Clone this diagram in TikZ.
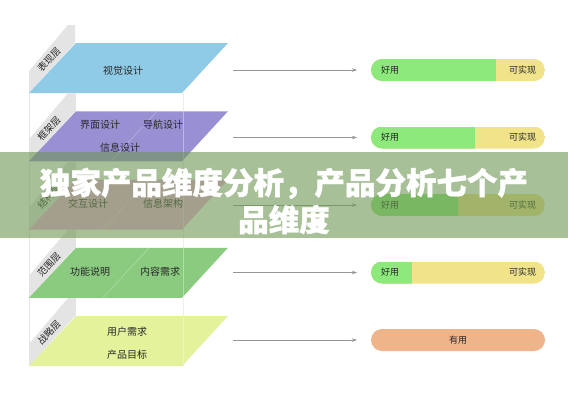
\documentclass[tikz,border=0pt]{standalone}
\usepackage{fontspec}
\newfontfamily\cjk{Noto Sans CJK SC}
\newfontfamily\cjktitle[FakeBold=1.2]{Noto Sans CJK SC}
\usetikzlibrary{arrows.meta}
\definecolor{lblue}{RGB}{143,203,230}
\definecolor{lpurple}{RGB}{153,144,212}
\definecolor{lpink}{RGB}{246,174,226}
\definecolor{lgreen}{RGB}{139,203,128}
\definecolor{lyellow}{RGB}{227,242,155}
\definecolor{pillgrn}{RGB}{141,233,124}
\definecolor{pillyel}{RGB}{240,227,138}
\definecolor{pillorg}{RGB}{240,180,138}
\definecolor{bandgrey}{RGB}{228,228,228}
\definecolor{boxline}{RGB}{230,230,230}
\definecolor{arrgrey}{RGB}{150,150,150}
\definecolor{ovl}{RGB}{110,150,83}
\definecolor{txt}{RGB}{40,40,40}
\tikzset{
  layertxt/.style={font=\cjk\fontsize{10}{12}\selectfont, text=txt, inner sep=0pt},
  sidetxt/.style={font=\cjk\fontsize{9.5}{10}\selectfont, text=txt, inner sep=0pt, rotate=47},
  pilltxt/.style={font=\cjk\fontsize{9}{10}\selectfont, text=txt, inner sep=0pt},
  arr/.style={draw=arrgrey, line width=0.7pt, -{Stealth[length=5pt,width=3.5pt]}},
  pillbox/.style={draw=none, minimum width=174pt, minimum height=22pt, inner sep=0pt},
  sep/.style={draw=white, opacity=0.3, line width=0.6pt}
}
\begin{document}
\begin{tikzpicture}[x=1pt,y=-1pt]
\useasboundingbox (0,0) rectangle (568,400);
\fill[white] (0,0) rectangle (568,400);
% faint box lines
\draw[boxline, line width=0.6pt] (29,93) -- (29,366) (75,93) -- (75,366) (183,93) -- (183,366);
% layers geometry
\foreach \T/\col in {43/lblue, 111.25/lpurple, 179.5/lpink, 247.75/lgreen, 316/lyellow}{
  \fill[bandgrey] (29,\T+50) -- (75,\T) -- (75,\T-18) -- (68,\T-18) -- (29,\T+28) -- cycle;
  \fill[\col] (29,\T+50) -- (182,\T+50) -- (228,\T) -- (76,\T) -- cycle;
}
\draw[white, opacity=0.35, line width=0.6pt] (183,93) -- (183,366);
\draw[sep] (111,161.25) -- (157,111.25);
\draw[sep] (103,229.5) -- (149,179.5);
\draw[sep] (103,297.75) -- (149,247.75);
% side labels
\node[sidetxt] (s1) at (49,60) {表现层};
\node[sidetxt] (s2) at (49,128.25) {框架层};
\node[sidetxt] (s3) at (49,196.5) {结构层};
\node[sidetxt] (s4) at (49,264.75) {范围层};
\node[sidetxt] (s5) at (49,333) {战略层};
% layer texts
\node[layertxt] (t11) at (123,71) {视觉设计};
\node[layertxt] (t21) at (100,125) {界面设计};
\node[layertxt] (t22) at (163,125) {导航设计};
\node[layertxt] (t23) at (120,148) {信息设计};
\node[layertxt] (t31) at (88,204) {交互设计};
\node[layertxt] (t32) at (163,204) {信息架构};
\node[layertxt] (t41) at (90,272) {功能说明};
\node[layertxt] (t42) at (160,272) {内容需求};
\node[layertxt] (t51) at (127,332) {用户需求};
\node[layertxt] (t52) at (127,355) {产品目标};
% pills
\foreach \y/\s in {70/496, 137.5/475, 205/458, 272.5/412}{
  \begin{scope}
    \clip[rounded corners=11pt] (371,\y-11) rectangle (545,\y+11);
    \fill[pillyel] (371,\y-11) rectangle (545,\y+11);
    \fill[pillgrn] (371,\y-11) rectangle (\s,\y+11);
  \end{scope}
}
\fill[pillorg, rounded corners=11pt] (371,329) rectangle (545,351);
\node[pillbox] (p1) at (458,70) {};
\node[pillbox] (p2) at (458,137.5) {};
\node[pillbox] (p3) at (458,205) {};
\node[pillbox] (p4) at (458,272.5) {};
\node[pillbox] (p5) at (458,340) {};
\foreach \i in {1,2,3,4}{
  \node[pilltxt, anchor=west] (g\i) at ([xshift=10pt]p\i.west) {好用};
  \node[pilltxt, anchor=east] (r\i) at ([xshift=-9pt]p\i.east) {可实现};
}
\node[pilltxt] (g5) at (p5) {有用};
% arrows
\foreach \i/\y in {1/70, 2/137.5, 3/205, 4/272.5, 5/340}{
  \coordinate (as\i) at (233,\y);
  \coordinate (ae\i) at (357,\y);
  \draw[arr] (as\i) -- (ae\i);
}
% overlay band with title
\fill[ovl, opacity=0.6] (0,152) rectangle (568,238);
\node[font=\cjktitle\bfseries\fontsize{30.5}{37}\selectfont, text=white, align=center, inner sep=0pt] (title) at (284,201) {独家产品维度分析，产品分析七个产\\品维度};
\end{tikzpicture}
\end{document}
